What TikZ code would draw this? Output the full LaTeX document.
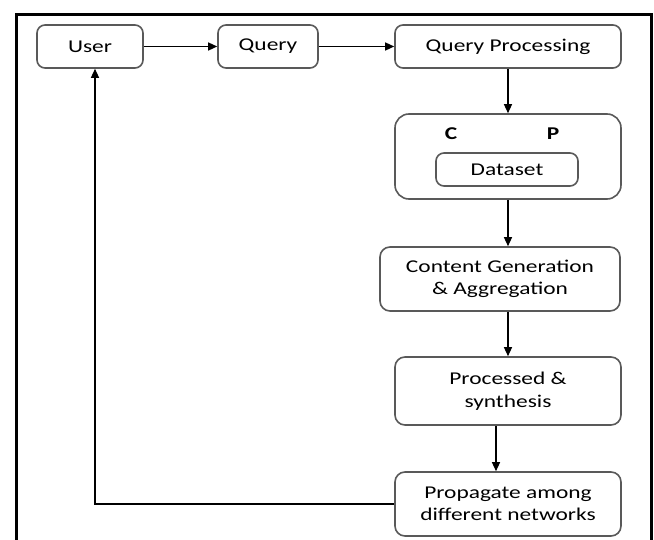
\documentclass[tikz,border=0pt]{standalone}
\usepackage{fontspec}
\newfontfamily\boxfont[FakeStretch=1.3]{Carlito}
\usetikzlibrary{arrows.meta}

\tikzstyle{every node}=[font=\boxfont\fontsize{18}{22.5}\selectfont, text=black]
\tikzstyle{box}=[draw=black!65, line width=1.6pt, rounded corners=8pt, fill=white, inner sep=0pt, align=center]

\begin{document}
\begin{tikzpicture}[x=1pt, y=-1pt, >={Triangle[length=9pt,width=8pt]}]
    \useasboundingbox (0,0) rectangle (654,540);
    % frame, open at the bottom
    \draw[line width=3pt] (16,550) -- (16,15) -- (651,15) -- (651,550);

    \node[box, minimum width=106pt, minimum height=43pt] (user) at (90,46.5) {User};
    \node[box, minimum width=100pt, minimum height=43pt] (query) at (268,46.5) {Query};
    \node[box, minimum width=226pt, minimum height=43pt] (qproc) at (508,46.5) {Query Processing};
    \node[box, minimum width=226pt, minimum height=85pt, rounded corners=14pt] (data) at (508,156.5) {};
    \node[font=\boxfont\bfseries\fontsize{18}{22.5}\selectfont] (c) at (451,134) {C};
    \node[font=\boxfont\bfseries\fontsize{18}{22.5}\selectfont] (p) at (553,134) {P};
    \node[box, minimum width=142pt, minimum height=33pt] (dset) at (507,169.5) {Dataset};
    \node[box, minimum width=240pt, minimum height=64pt, rounded corners=10pt] (cg) at (500,279) {Content Generation\\\& Aggregation};
    \node[box, minimum width=226pt, minimum height=68pt, rounded corners=10pt] (proc) at (508,391) {Processed \&\\synthesis};
    \node[box, minimum width=226pt, minimum height=64pt, rounded corners=10pt] (prop) at (508,504) {Propagate among\\different networks};

    \path[->, line width=1.3pt]
    (user) edge (query)
    (query) edge (qproc)
    (qproc) edge (data)
    (data.south) edge (data.south |- cg.north)
    (cg.south -| proc.north) edge (proc.north)
    ([xshift=-12pt]proc.south) edge ([xshift=-12pt]proc.south |- prop.north)
    ;
    % back to the user
    \draw[->, line width=1.3pt] (prop.west) -| ([xshift=5pt]user.south);
\end{tikzpicture}
\end{document}
